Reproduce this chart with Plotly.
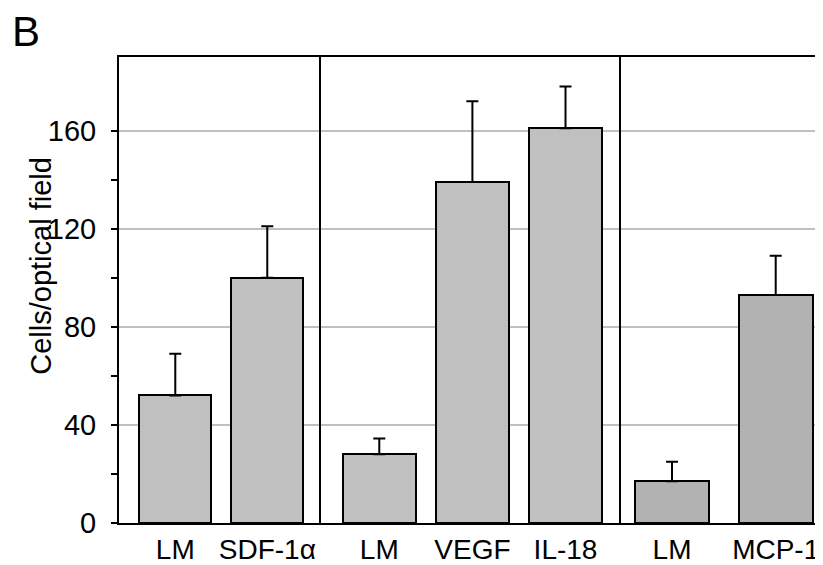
import plotly.graph_objects as go

# ---- data ----
panel1_labels = ["LM", "SDF-1α"]
panel1_values = [52, 100]
panel1_errors = [17, 21]

panel2_labels = ["LM", "VEGF", "IL-18"]
panel2_values = [28, 139, 161]
panel2_errors = [6.5, 33, 17]

panel3_labels = ["LM", "MCP-1"]
panel3_values = [17, 93]
panel3_errors = [8, 16]

y_ticks = [0, 40, 80, 120, 160]
y_minor_ticks = [20, 60, 100, 140]

# ---- layout geometry (page body has an 8px margin) ----
OFF = 8
W, H = 823 - OFF, 565 - OFF
L, R, T, B = 119 - OFF, 0, 57 - OFF, 37
pw = W - L - R
ph = H - T - B
d1 = (321 - 119) / pw
d2 = (621 - 119) / pw

FONT = "Liberation Sans, Arial, sans-serif"

fig = go.Figure()

panels = [
    (panel1_labels, panel1_values, panel1_errors, "#c0c0c0", 0.78, "x", "y"),
    (panel2_labels, panel2_values, panel2_errors, "#c0c0c0", 0.785, "x2", "y2"),
    (panel3_labels, panel3_values, panel3_errors, "#b2b2b2", 0.71, "x3", "y3"),
]
for labels, vals, errs, col, bw, xa, ya in panels:
    fig.add_trace(go.Bar(
        x=labels, y=vals, xaxis=xa, yaxis=ya, width=bw,
        marker=dict(color=col, line=dict(color="black", width=2)),
        error_y=dict(type="data", symmetric=False, array=errs,
                     arrayminus=[0] * len(errs), color="black",
                     thickness=2, width=6),
        showlegend=False,
    ))

xcommon = dict(showline=True, mirror=True, linecolor="black", linewidth=2,
               ticks="", showgrid=False, type="category",
               tickfont=dict(family=FONT, size=28, color="black"))
ycommon = dict(range=[0, 190], showgrid=True, gridcolor="#c0c0c0",
               gridwidth=1.5, zeroline=False, showline=True,
               linecolor="black", linewidth=2, tickvals=y_ticks)

fig.update_layout(
    width=W, height=H,
    margin=dict(l=L, r=R, t=T, b=B),
    plot_bgcolor="white", paper_bgcolor="white",
    bargap=0,
    xaxis=dict(domain=[0, d1], range=[-0.612, 1.584], anchor="y", **xcommon),
    xaxis2=dict(domain=[d1, d2], range=[-0.626, 2.596], anchor="y2", **xcommon),
    xaxis3=dict(domain=[d2, 1], range=[-0.492, 1.456], anchor="y3", **xcommon),
    yaxis=dict(anchor="x", ticks="outside", ticklen=6, tickwidth=2,
               tickcolor="black", ticklabelstandoff=9,
               tickfont=dict(family=FONT, size=29, color="black"),
               minor=dict(tickvals=y_minor_ticks, ticks="outside", ticklen=6,
                          tickwidth=2, tickcolor="black", showgrid=False),
               **ycommon),
    yaxis2=dict(anchor="x2", matches="y", showticklabels=False, ticks="", **ycommon),
    yaxis3=dict(anchor="x3", matches="y", showticklabels=False, ticks="", **ycommon),
    annotations=[
        dict(text="Cells/optical field", textangle=-90, xref="paper", yref="paper",
             x=(41 - 119) / pw, y=(525 - 265) / ph, xanchor="center", yanchor="middle",
             showarrow=False, font=dict(family=FONT, size=29, color="black")),
        dict(text="B", xref="paper", yref="paper",
             x=(10 - 119) / pw, y=(525 - 28) / ph, xanchor="left", yanchor="middle",
             showarrow=False, font=dict(family=FONT, size=42, color="black")),
    ],
)

fig.write_html("out.html")
